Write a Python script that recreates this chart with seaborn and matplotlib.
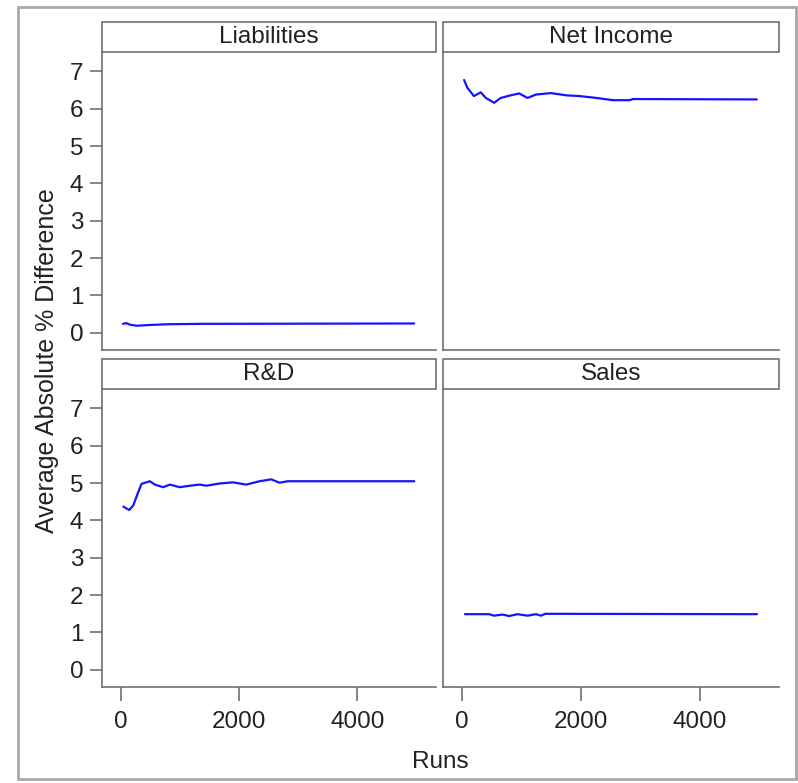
import matplotlib
matplotlib.use("Agg")
import matplotlib.pyplot as plt
from matplotlib.patches import Rectangle
import seaborn as sns
import pandas as pd

# values (Runs vs average absolute % difference)
panels = ["Liabilities", "Net Income", "R&D", "Sales"]

liab_runs = [35, 90, 150, 265, 490, 800, 1333, 4960]
liab_vals = [0.24, 0.26, 0.22, 0.19, 0.21, 0.23, 0.24, 0.25]

ni_runs = [35, 90, 200, 315, 400, 540, 650, 793, 962, 1100, 1243, 1497,
           1750, 1975, 2257, 2537, 2818, 2875, 4957]
ni_vals = [6.77, 6.56, 6.34, 6.44, 6.29, 6.16, 6.29, 6.35, 6.41, 6.29, 6.38,
           6.42, 6.36, 6.34, 6.29, 6.23, 6.23, 6.26, 6.25]

rd_runs = [40, 140, 208, 293, 349, 490, 574, 715, 827, 996, 1165, 1333,
           1446, 1671, 1896, 2121, 2346, 2543, 2684, 2824, 4962]
rd_vals = [4.37, 4.28, 4.40, 4.76, 4.98, 5.05, 4.96, 4.89, 4.96, 4.89, 4.93,
           4.96, 4.93, 4.99, 5.02, 4.96, 5.05, 5.10, 5.01, 5.05, 5.05]

sales_runs = [50, 456, 540, 680, 793, 934, 1102, 1243, 1328, 1400, 4960]
sales_vals = [1.49, 1.49, 1.45, 1.48, 1.44, 1.49, 1.45, 1.49, 1.45, 1.50, 1.49]

x_ticks = [0, 2000, 4000]
y_ticks = [0, 1, 2, 3, 4, 5, 6, 7]

frames = []
for name, runs, vals in zip(panels,
                            [liab_runs, ni_runs, rd_runs, sales_runs],
                            [liab_vals, ni_vals, rd_vals, sales_vals]):
    frames.append(pd.DataFrame({"Runs": runs, "Diff": vals, "Item": name}))
df = pd.concat(frames, ignore_index=True)

sns.set_theme(style="white")
plt.rcParams["font.family"] = ["Liberation Sans", "DejaVu Sans"]

W, H = 798, 783
FS = 17.5
g = sns.FacetGrid(df, col="Item", col_wrap=2, col_order=panels,
                  sharex=True, sharey=True, height=3, aspect=1)
g.map_dataframe(sns.lineplot, x="Runs", y="Diff", color="#1414ff",
                linewidth=1.6, estimator=None, sort=False)
fig = g.figure
fig.set_size_inches(W / 100, H / 100)
fig.set_dpi(100)

# panel boxes in pixel coords (left, top, right, bottom)
boxes = {
    "Liabilities": (102, 52, 436, 350),
    "Net Income": (443, 52, 779, 350),
    "R&D": (102, 389, 436, 687),
    "Sales": (443, 389, 779, 687),
}
head_px = 30
edge = "#707070"

for ax, name in zip(g.axes.flat, panels):
    l, t, r, b = boxes[name]
    ax.set_position([l / W, 1 - b / H, (r - l) / W, (b - t) / H])
    ax.set_xlim(-320, 5330)
    ax.set_ylim(-0.46, 7.52)
    ax.set_xticks(x_ticks)
    ax.set_yticks(y_ticks)
    ax.set_title("")
    ax.set_xlabel("")
    ax.set_ylabel("")
    for s in ax.spines.values():
        s.set_color(edge)
        s.set_linewidth(1.2)
    ax.spines["top"].set_color("#303030")
    ax.spines["top"].set_linewidth(1.6)
    ax.tick_params(axis="both", direction="out", width=1.2, color=edge,
                   labelsize=FS, labelcolor="#222222",
                   left=name in ("Liabilities", "R&D"),
                   bottom=name in ("R&D", "Sales"))
    ax.tick_params(axis="y", length=8.5, pad=5)
    ax.tick_params(axis="x", length=10, pad=7)
    hh = head_px / (b - t)
    ax.add_patch(Rectangle((0, 1), 1, hh, transform=ax.transAxes,
                           facecolor="white", edgecolor=edge, lw=1.2,
                           clip_on=False, zorder=0))
    ax.text(0.5, 1 + hh / 2, name, transform=ax.transAxes, ha="center",
            va="center", fontsize=FS, color="#222222")

fig.text(47 / W, 1 - 361 / H, "Average Absolute % Difference", rotation=90,
         ha="center", va="center", fontsize=FS + 0.5, color="#222222")
fig.text(440 / W, 1 - 762 / H, "Runs", ha="center", va="center",
         fontsize=FS, color="#222222")

fig.patches.append(Rectangle((18 / W, 1 - 779 / H), (796 - 18) / W,
                             (779 - 7) / H, transform=fig.transFigure,
                             fill=False, edgecolor="#a8a8a8", lw=2))

fig.savefig("out.png", dpi=100)
